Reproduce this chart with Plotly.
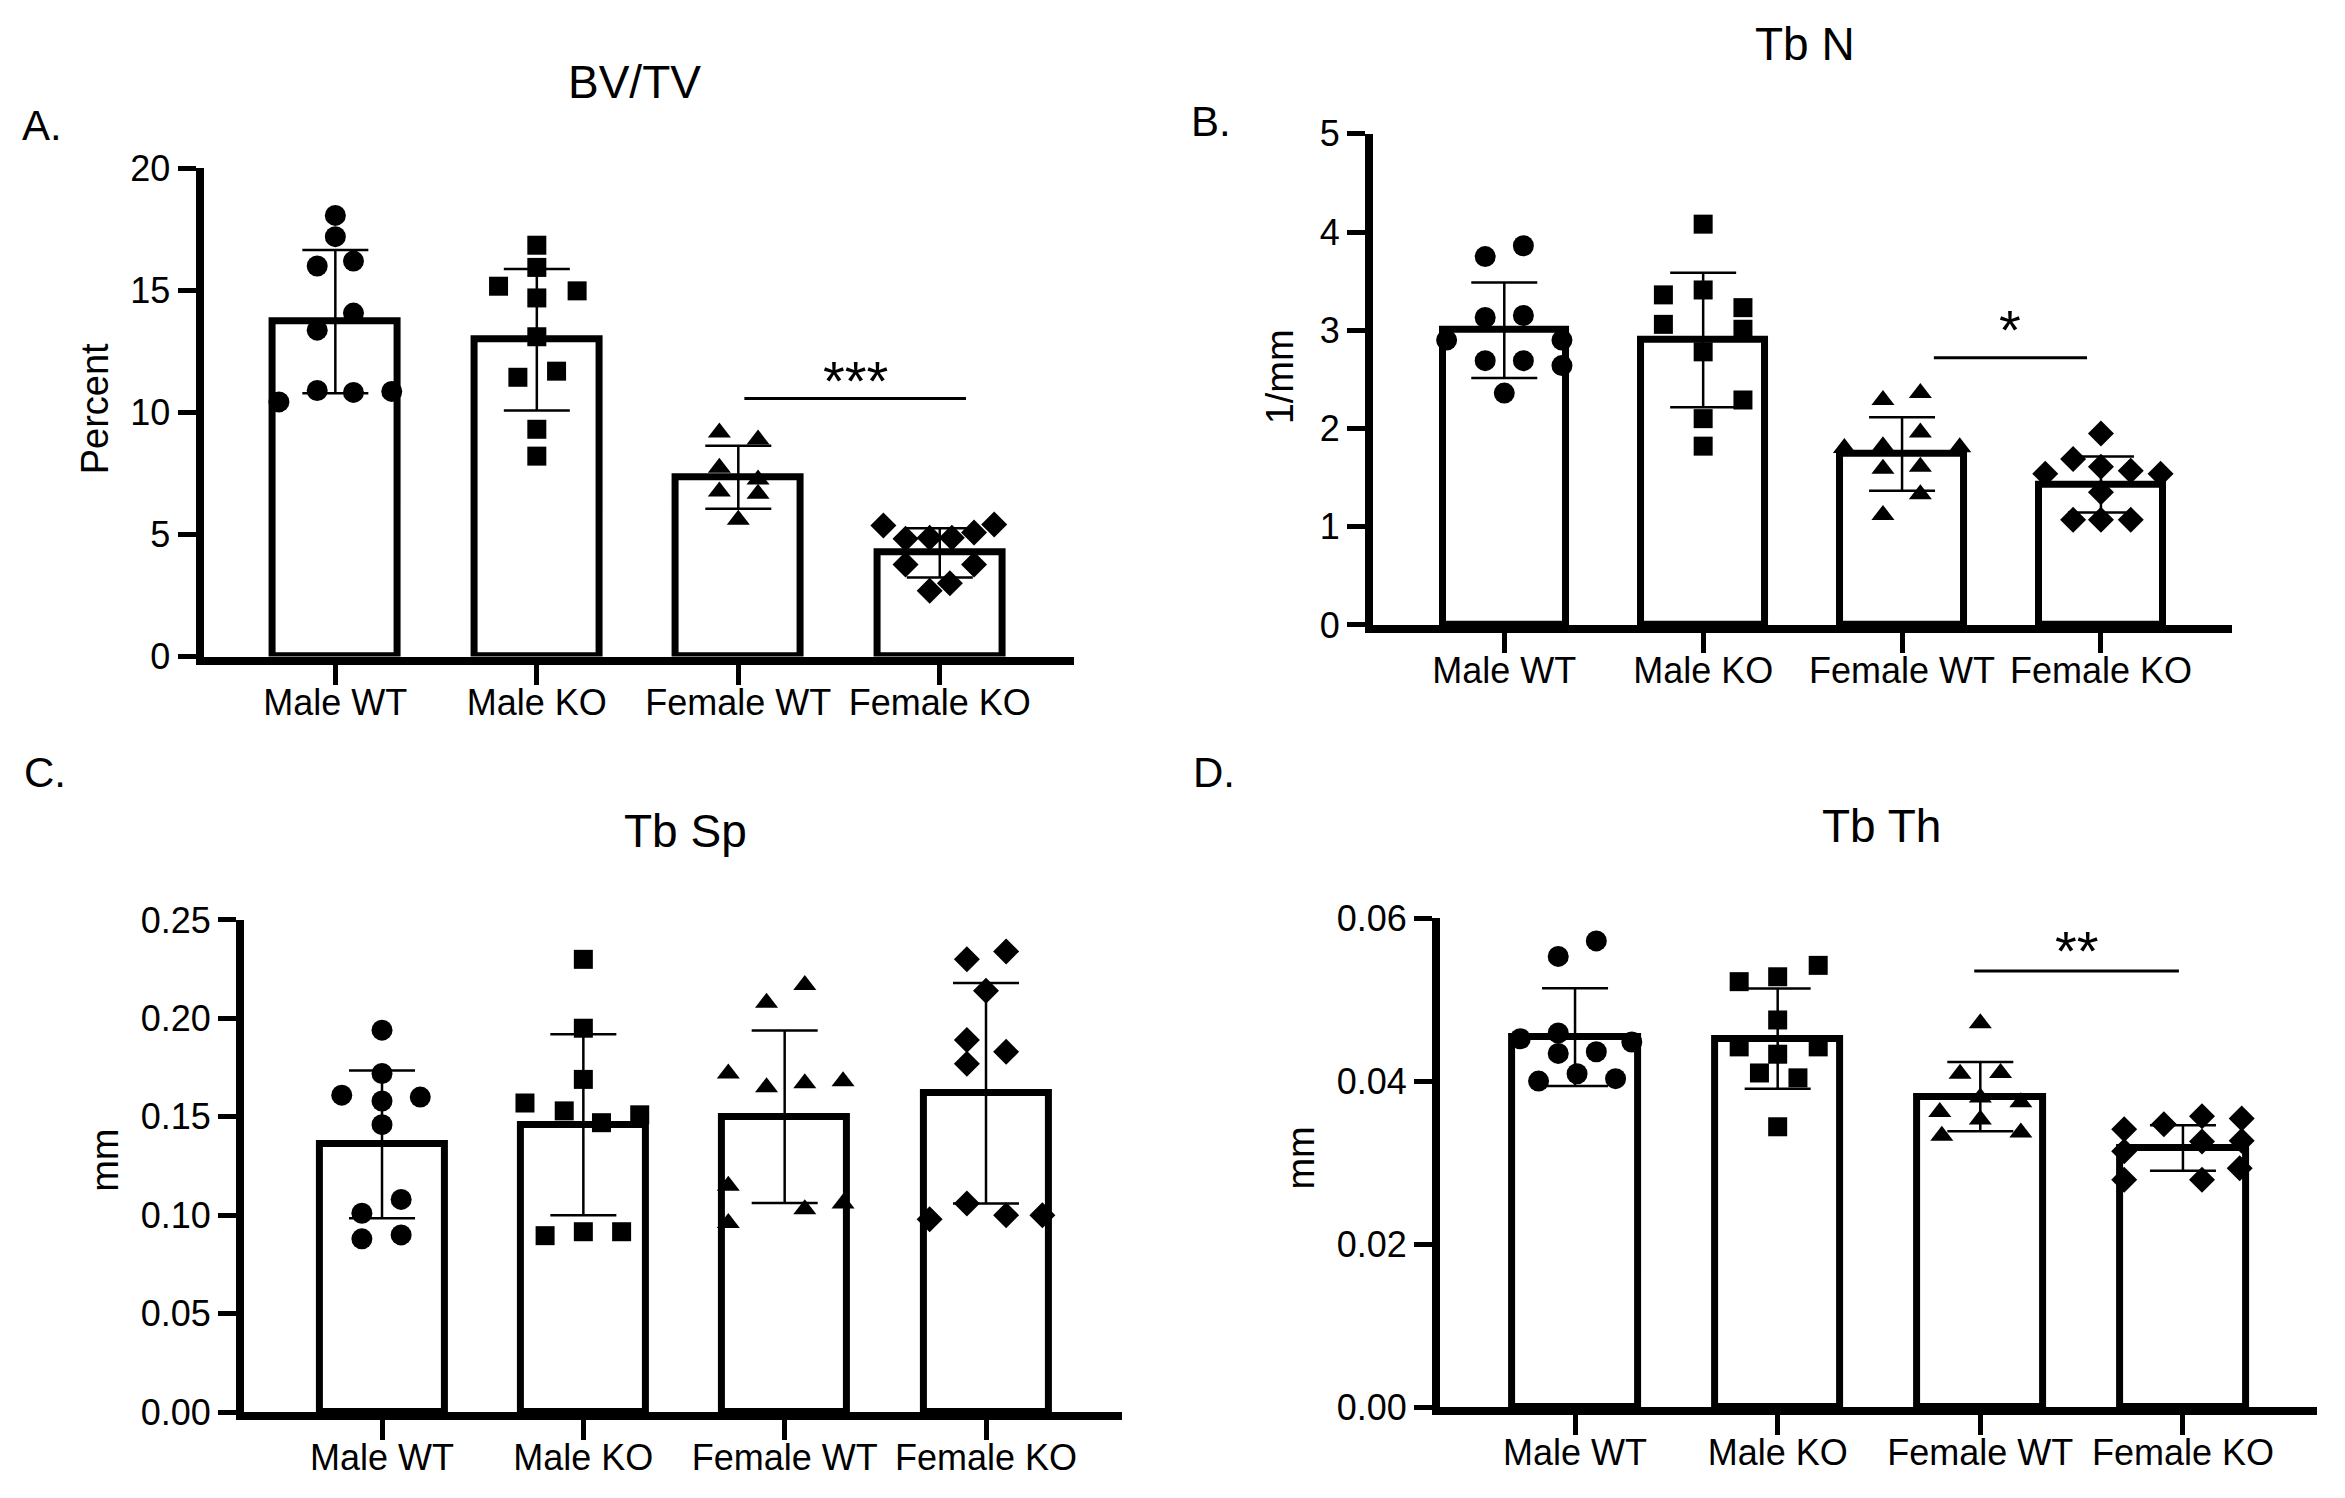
import plotly.graph_objects as go

categories = ["Male WT", "Male KO", "Female WT", "Female KO"]
symbols = ["circle", "square", "triangle-up", "diamond"]

# ---------------- Panel A: BV/TV (Percent) ----------------
A_mean = [13.72, 12.98, 7.34, 4.25]
A_sd = [2.93, 2.90, 1.29, 1.01]
A_pts = [
    [18.07, 17.2, 16.0, 16.2, 14.07, 13.37, 10.43, 10.9, 10.82, 10.86],
    [16.85, 15.94, 15.17, 14.98, 14.69, 13.1, 11.44, 11.69, 9.31, 8.21],
    [9.18, 8.89, 7.73, 7.25, 6.76, 6.67, 5.6],
    [5.37, 5.41, 5.08, 4.83, 4.87, 4.87, 3.77, 3.77, 2.7, 3.0],
]
A_jit = [
    [0, 0, -0.09, 0.09, 0.09, -0.09, -0.28, -0.09, 0.09, 0.28],
    [0, 0, -0.19, 0.2, 0, 0, -0.094, 0.098, 0, 0],
    [-0.094, 0.098, -0.094, 0.098, -0.094, 0.098, 0],
    [-0.28, 0.27, 0.17, -0.17, -0.05, 0.06, -0.17, 0.17, -0.05, 0.05],
]
A_sig = {"x0": 2.03, "x1": 3.13, "y": 10.57, "text": "***", "ty": 11.8}

# ---------------- Panel B: Tb N (1/mm) ----------------
B_mean = [3.0, 2.90, 1.74, 1.43]
B_sd = [0.485, 0.685, 0.375, 0.285]
B_pts = [
    [3.86, 3.75, 3.13, 3.15, 2.9, 2.9, 2.69, 2.69, 2.64, 2.36],
    [4.08, 3.36, 3.41, 3.23, 3.06, 3.01, 2.78, 2.29, 2.1, 1.82],
    [2.36, 2.29, 1.96, 1.8, 1.82, 1.81, 1.59, 1.61, 1.33, 1.12],
    [1.95, 1.69, 1.61, 1.54, 1.57, 1.54, 1.35, 1.07, 1.07, 1.07],
]
B_jit = [
    [0.096, -0.096, -0.096, 0.096, -0.29, 0.29, -0.096, 0.096, 0.29, 0],
    [0, -0.2, 0, 0.2, -0.2, 0.2, 0, 0.2, 0, 0],
    [0.092, -0.096, 0.092, -0.29, -0.096, 0.29, -0.096, 0.092, 0.092, -0.096],
    [0, -0.14, 0, -0.28, 0.15, 0.3, 0, -0.14, 0, 0.15],
]
B_sig = {"x0": 2.16, "x1": 2.93, "y": 2.72, "text": "*", "ty": 3.13}

# ---------------- Panel C: Tb Sp (mm) ----------------
C_mean = [0.136, 0.146, 0.150, 0.162]
C_sd = [0.0375, 0.046, 0.0438, 0.056]
C_pts = [
    [0.194, 0.172, 0.161, 0.158, 0.160, 0.146, 0.108, 0.101, 0.088, 0.090],
    [0.230, 0.195, 0.169, 0.157, 0.153, 0.147, 0.151, 0.0896, 0.0916, 0.0916],
    [0.217, 0.208, 0.172, 0.165, 0.167, 0.168, 0.115, 0.096, 0.103, 0.106],
    [0.234, 0.230, 0.214, 0.189, 0.183, 0.177, 0.098, 0.106, 0.100, 0.100],
]
C_jit = [
    [0, 0, -0.2, 0, 0.19, 0, 0.095, -0.1, -0.1, 0.095],
    [0, 0, 0, -0.29, -0.095, 0.09, 0.28, -0.19, 0, 0.19],
    [0.1, -0.09, -0.28, -0.09, 0.1, 0.29, -0.28, -0.28, 0.1, 0.29],
    [0.1, -0.095, 0, -0.095, 0.1, -0.095, -0.28, -0.095, 0.1, 0.28],
]

# ---------------- Panel D: Tb Th (mm) ----------------
D_mean = [0.0454, 0.0452, 0.0381, 0.0318]
D_sd = [0.0060, 0.00615, 0.00425, 0.0028]
D_pts = [
    [0.0572, 0.0553, 0.0452, 0.0459, 0.0448, 0.0434, 0.0436, 0.0400, 0.0409, 0.0403],
    [0.0542, 0.0522, 0.0528, 0.0475, 0.0442, 0.0442, 0.0433, 0.0410, 0.0404, 0.0344],
    [0.0471, 0.0409, 0.0410, 0.0380, 0.0362, 0.0374, 0.0353, 0.0333, 0.0337],
    [0.0357, 0.0354, 0.0341, 0.0347, 0.0327, 0.0326, 0.0314, 0.0293, 0.0279, 0.0279],
]
D_jit = [
    [0.105, -0.083, -0.27, -0.083, 0.28, -0.083, 0.105, -0.18, 0.01, 0.2],
    [0.2, -0.19, 0, 0, -0.19, 0.2, 0, -0.09, 0.1, 0],
    [0, -0.1, 0.1, 0, -0.2, 0.2, 0, -0.19, 0.2],
    [0.094, 0.29, -0.29, -0.094, 0.29, 0.094, -0.29, 0.28, -0.29, 0.094],
]
D_sig = {"x0": 1.97, "x1": 2.98, "y": 0.0535, "text": "**", "ty": 0.0575}

titles = ["BV/TV", "Tb N", "Tb Sp", "Tb Th"]
ytitles = ["Percent", "1/mm", "mm", "mm"]
letters = ["A.", "B.", "C.", "D."]
y_ranges = [[0, 20], [0, 5], [0, 0.25], [0, 0.06]]
y_dticks = [5, 1, 0.05, 0.02]
y_formats = ["d", "d", ".2f", ".2f"]

# ---------------- layout geometry (paper fractions) ----------------
panels = [
    dict(xd=[0.0834, 0.4544], yd=[0.5686, 0.9037], xr=[-0.654, 3.664],
         title=(0.2673, 0.9626), ylab=(0.0371, 0.7390), letter=(0.0147, 0.9334)),
    dict(xd=[0.5821, 0.9484], yd=[0.5903, 0.9274], xr=[-0.66, 3.659],
         title=(0.7665, 0.9887), ylab=(0.5426, 0.7605), letter=(0.5131, 0.9361)),
    dict(xd=[0.1006, 0.4751], yd=[0.0501, 0.3878], xr=[-0.686, 3.676],
         title=(0.2891, 0.4487), ylab=(0.0413, 0.2231), letter=(0.0156, 0.4891)),
    dict(xd=[0.6107, 0.9846], yd=[0.0534, 0.3891], xr=[-0.666, 3.661],
         title=(0.7990, 0.4522), ylab=(0.5516, 0.2244), letter=(0.5144, 0.4891)),
]

means = [A_mean, B_mean, C_mean, D_mean]
sds = [A_sd, B_sd, C_sd, D_sd]
pts = [A_pts, B_pts, C_pts, D_pts]
jits = [A_jit, B_jit, C_jit, D_jit]
sigs = [A_sig, B_sig, None, D_sig]
marker_sizes = [21, 19, 20, 20]

FONT = "Liberation Sans, Arial, Helvetica, sans-serif"
fig = go.Figure()
annotations = []
shapes = []


def paper_text(x, y, text, size, angle=0):
    return dict(x=x, y=y, xref="paper", yref="paper", text=text, showarrow=False,
                xanchor="center", yanchor="middle", textangle=angle,
                font=dict(family=FONT, size=size, color="black"))


for p in range(4):
    sfx = "" if p == 0 else str(p + 1)
    xa, ya = "x" + sfx, "y" + sfx
    xpos = list(range(len(categories)))
    fig.add_trace(go.Bar(
        x=xpos, y=means[p], width=0.62, xaxis=xa, yaxis=ya,
        marker=dict(color="white", line=dict(color="black", width=7)),
        error_y=dict(type="data", array=sds[p], visible=True, color="black",
                     thickness=2.5, width=33),
        showlegend=False, hoverinfo="skip",
    ))
    for g in range(4):
        xs = [g + j for j in jits[p][g]]
        fig.add_trace(go.Scatter(
            x=xs, y=pts[p][g], mode="markers", xaxis=xa, yaxis=ya,
            marker=dict(symbol=symbols[g], color="black", size=marker_sizes[g],
                        line=dict(width=0)),
            showlegend=False, cliponaxis=False,
        ))
    geo = panels[p]
    fig.update_layout(**{
        "xaxis" + sfx: dict(
            domain=geo["xd"], range=geo["xr"], anchor=ya, tickmode="array",
            tickvals=xpos, ticktext=categories, showline=True, linecolor="black",
            linewidth=8, ticks="outside", ticklen=20, tickwidth=5, tickcolor="black",
            ticklabelstandoff=-13,
            showgrid=False, zeroline=False, fixedrange=True,
            tickfont=dict(family=FONT, size=36, color="black"),
        ),
        "yaxis" + sfx: dict(
            domain=geo["yd"], range=y_ranges[p], anchor=xa, dtick=y_dticks[p],
            tick0=0, tickformat=y_formats[p], showline=True, linecolor="black",
            linewidth=8, ticks="outside", ticklen=18, tickwidth=5, tickcolor="black",
            showgrid=False, zeroline=False, fixedrange=True,
            tickfont=dict(family=FONT, size=36, color="black"),
        ),
    })
    annotations.append(paper_text(*geo["title"], titles[p], 46))
    annotations.append(paper_text(*geo["ylab"], ytitles[p], 38, angle=-90))
    annotations.append(paper_text(*geo["letter"], letters[p], 42))
    s = sigs[p]
    if s is not None:
        shapes.append(dict(type="line", xref=xa, yref=ya, x0=s["x0"], x1=s["x1"],
                           y0=s["y"], y1=s["y"], line=dict(color="black", width=3)))
        annotations.append(dict(x=(s["x0"] + s["x1"]) / 2, y=s["ty"], xref=xa, yref=ya,
                                text=s["text"], showarrow=False, xanchor="center",
                                yanchor="middle", yshift=-12,
                                font=dict(family=FONT, size=56, color="black")))

fig.update_layout(
    width=2345, height=1498,
    margin=dict(l=0, r=0, t=0, b=0),
    paper_bgcolor="white", plot_bgcolor="white",
    annotations=annotations, shapes=shapes,
    bargap=0,
)

fig.write_html("out.html")
